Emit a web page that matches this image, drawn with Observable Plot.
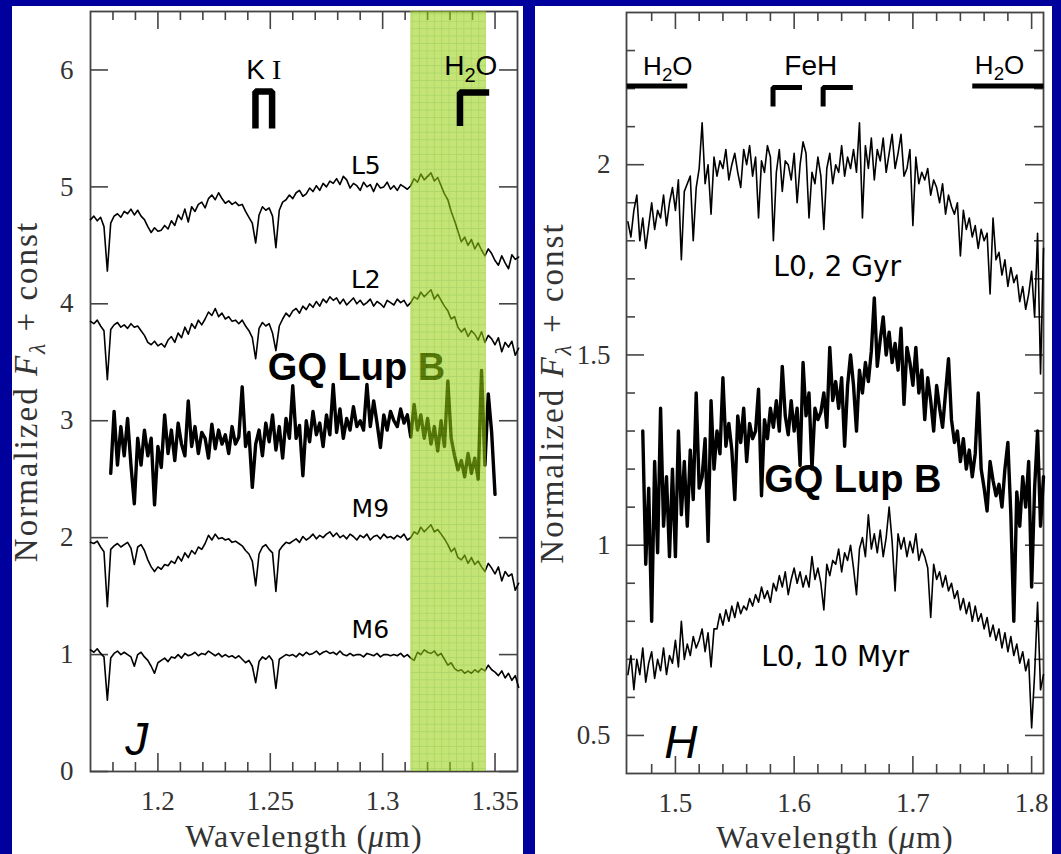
<!DOCTYPE html>
<html><head><meta charset="utf-8">
<script src="https://cdn.jsdelivr.net/npm/d3@7"></script>
<script src="https://cdn.jsdelivr.net/npm/@observablehq/plot@0.6"></script>
<style>
html,body{margin:0;padding:0;background:#00009c;}
#wrap{position:relative;width:1061px;height:854px;background:#00009c;overflow:hidden;}
.panel{position:absolute;background:#fff;}
#left{left:12px;top:6px;width:511px;height:848px;}
#right{left:535px;top:6px;width:517px;height:848px;}
.panel svg{overflow:visible;display:block;}
</style></head>
<body>
<div id="wrap"><div id="left" class="panel"></div><div id="right" class="panel"></div></div>
<svg width="0" height="0" style="position:absolute"><defs>
<pattern id="greenGrid" width="7.4" height="7.4" patternUnits="userSpaceOnUse">
<rect width="7.4" height="7.4" fill="#9ad212"/>
<path d="M0 0.5H7.4M0.5 0V7.4" stroke="#74ba00" stroke-width="1"/>
</pattern></defs></svg>
<script>
// ---------- J band (left panel) ----------
const jStart = 1.17, jStep = 0.0015;          // wavelength sampling of the J spectra
const gqJStart = 1.179;                        // GQ Lup B J spectrum starts here
const fluxL5 = [
 4.72,4.75,4.71,4.74,4.66,4.28,4.69,4.75,4.77,4.74,
 4.79,4.77,4.81,4.76,4.80,4.75,4.72,4.66,4.61,4.65,
 4.62,4.63,4.67,4.64,4.71,4.67,4.76,4.72,4.81,4.70,
 4.83,4.79,4.85,4.87,4.82,4.90,4.93,4.89,4.95,4.90,
 4.86,4.88,4.85,4.87,4.84,4.85,4.79,4.74,4.69,4.52,
 4.76,4.83,4.80,4.82,4.75,4.48,4.80,4.87,4.89,4.93,
 4.90,4.95,4.97,4.92,4.94,4.99,4.96,5.01,4.97,5.03,
 5.00,5.05,5.03,5.07,5.02,5.09,5.06,4.99,5.03,5.01,
 4.97,5.04,5.00,5.02,4.96,5.03,4.99,5.00,5.04,4.98,
 5.01,4.97,5.02,5.00,4.98,5.01,5.07,5.04,5.11,5.06,
 5.09,5.12,5.05,5.08,5.01,4.94,4.89,4.79,4.71,4.62,
 4.53,4.57,4.50,4.55,4.47,4.52,4.46,4.41,4.47,4.43,
 4.37,4.33,4.41,4.35,4.30,4.42,4.38,4.40];
const fluxL2 = [
 3.85,3.83,3.86,3.81,3.77,3.35,3.78,3.82,3.84,3.80,
 3.82,3.79,3.83,3.80,3.81,3.77,3.73,3.67,3.65,3.68,
 3.64,3.66,3.63,3.69,3.72,3.67,3.75,3.71,3.80,3.74,
 3.83,3.79,3.86,3.82,3.87,3.93,3.90,3.96,3.89,3.92,
 3.87,3.89,3.85,3.86,3.83,3.86,3.81,3.77,3.71,3.53,
 3.79,3.84,3.81,3.83,3.75,3.60,3.81,3.87,3.92,3.89,
 3.94,3.96,3.92,3.98,3.95,4.00,3.97,4.02,3.98,4.04,
 4.01,4.06,4.03,4.05,4.00,4.04,3.99,4.02,4.05,4.00,
 4.03,3.99,4.01,4.04,3.98,4.02,4.00,3.97,4.03,4.01,
 3.99,4.04,4.01,4.03,3.98,4.01,4.06,4.04,4.10,4.06,
 4.09,4.12,4.04,4.08,4.03,3.98,3.94,3.87,3.89,3.80,
 3.76,3.79,3.72,3.77,3.74,3.69,3.76,3.67,3.73,3.70,
 3.65,3.71,3.59,3.67,3.63,3.68,3.56,3.62];
const fluxGQJ = [
 2.55,3.08,2.62,2.95,
 2.70,3.02,2.62,2.29,2.85,2.62,2.92,2.70,2.85,2.28,
 2.78,2.60,3.05,2.72,2.92,2.66,2.98,2.80,2.70,3.17,
 2.78,2.95,2.72,2.90,2.85,2.68,2.97,2.76,2.92,2.80,
 2.88,2.72,2.95,2.80,2.86,3.29,2.78,2.90,2.43,2.80,
 2.92,2.70,2.98,2.82,3.05,2.75,2.95,2.68,3.02,2.85,
 3.30,2.85,2.96,2.53,3.00,2.82,3.08,2.88,2.98,2.78,
 3.05,2.88,3.31,2.90,3.10,2.85,3.02,2.92,3.12,2.95,
 3.00,2.92,3.31,2.95,3.17,2.98,2.77,3.05,2.92,3.08,
 3.00,2.95,3.10,2.98,3.05,2.86,3.14,2.92,3.05,2.85,
 3.02,2.80,2.95,2.74,3.00,2.78,3.34,2.85,2.70,2.58,
 2.66,2.52,2.72,2.55,2.68,2.50,3.43,2.62,3.23,2.90,
 2.37];
const fluxM9 = [
 1.96,1.95,1.97,1.92,1.88,1.41,1.90,1.93,1.95,1.92,
 1.94,1.96,1.91,1.77,1.92,1.94,1.89,1.81,1.75,1.71,
 1.75,1.73,1.77,1.76,1.80,1.78,1.84,1.80,1.87,1.83,
 1.89,1.86,1.92,1.90,1.95,2.02,1.98,2.03,1.99,2.00,
 1.98,1.99,1.96,1.97,1.95,1.93,1.89,1.86,1.80,1.59,
 1.86,1.92,1.94,1.90,1.87,1.54,1.89,1.93,1.96,1.95,
 1.97,1.99,1.96,2.01,1.98,2.00,2.03,1.99,2.02,2.00,
 2.03,2.05,2.01,2.04,2.00,2.02,1.99,2.03,2.01,1.98,
 2.02,2.00,2.03,1.98,2.01,2.02,1.99,2.03,2.00,2.01,
 1.99,2.02,2.00,2.03,1.98,2.00,2.05,2.03,2.09,2.05,
 2.08,2.11,2.05,2.07,2.03,1.99,1.94,1.88,1.91,1.83,
 1.81,1.85,1.78,1.83,1.77,1.80,1.75,1.71,1.78,1.74,
 1.69,1.75,1.63,1.71,1.67,1.69,1.55,1.61];
const fluxM6 = [
 1.04,1.02,1.05,1.01,0.98,0.61,0.97,1.01,1.03,1.00,
 1.02,1.00,0.98,0.90,1.00,1.02,0.98,0.95,0.90,0.84,
 0.93,0.95,0.97,0.94,0.98,0.97,1.00,0.97,1.01,0.99,
 1.00,1.02,0.99,1.01,1.00,1.03,1.01,0.99,1.01,0.98,
 1.00,0.98,0.99,0.97,0.99,0.96,0.93,0.95,0.90,0.76,
 0.94,0.98,0.96,0.99,0.95,0.71,0.96,0.98,1.00,0.99,
 1.00,0.98,1.01,0.99,1.02,1.00,1.01,1.03,1.00,1.02,
 1.03,1.01,1.02,1.00,1.03,1.00,0.99,1.01,0.99,1.00,
 1.00,0.98,1.01,1.00,0.99,1.01,0.98,1.00,1.00,0.99,
 1.00,0.99,1.01,0.98,1.00,0.97,0.95,1.02,1.00,1.04,
 1.02,1.01,1.03,0.99,1.01,0.96,0.91,0.93,0.88,0.86,
 0.87,0.84,0.86,0.84,0.87,0.85,0.88,0.86,0.91,0.87,
 0.85,0.82,0.86,0.80,0.84,0.78,0.82,0.72];
const jMajorX = [1.2, 1.25, 1.3, 1.35];
const jMinorX = [1.18,1.19,1.21,1.22,1.23,1.24,1.26,1.27,1.28,1.29,1.31,1.32,1.33,1.34];
const jTicksY = [0,1,2,3,4,5,6];
const jBand = [{x1: 1.3125, x2: 1.3462}];
const kIBracket = [{x:1.2434,y:5.50},{x:1.2434,y:5.815},{x:1.2508,y:5.815},{x:1.2508,y:5.50}];
const h2oJBracket = [{x:1.3344,y:5.52},{x:1.3344,y:5.807},{x:1.3474,y:5.807}];

// ---------- H band (right panel) ----------
const hStart = 1.46, hStep = 0.0025;
const gqHStart = 1.4725;
const fluxGyr = [
 1.85,1.81,1.88,1.92,1.80,1.86,1.78,1.84,1.90,1.83,
 1.88,1.86,1.92,1.84,1.90,1.94,1.88,1.96,1.75,1.93,
 1.95,1.97,1.80,1.94,1.99,2.11,1.95,2.00,1.87,2.02,
 1.97,2.01,1.99,2.04,1.96,2.00,2.03,1.98,1.94,2.04,
 2.00,2.05,1.97,2.02,1.86,2.01,1.98,2.05,2.02,1.80,
 1.98,2.04,1.93,2.01,2.00,1.96,2.03,1.90,2.00,2.06,
 2.03,1.86,1.98,1.95,2.02,1.97,1.83,1.99,2.03,1.95,
 2.00,1.98,2.05,1.97,2.02,1.99,2.04,1.98,2.11,1.86,
 2.05,1.99,2.07,1.96,2.04,2.01,2.07,1.98,2.03,2.08,
 1.99,2.03,2.08,1.97,1.99,2.04,1.84,2.02,1.95,1.98,
 1.96,1.99,1.92,1.96,1.94,1.90,1.95,1.87,1.92,1.89,
 1.87,1.90,1.76,1.88,1.83,1.86,1.81,1.84,1.78,1.83,
 1.80,1.82,1.66,1.86,1.75,1.77,1.71,1.75,1.68,1.73,
 1.69,1.71,1.64,1.68,1.62,1.66,1.72,1.60,1.82,1.45,
 1.78];
const fluxGQH = [
 1.30,0.95,1.15,0.80,1.22,0.98,1.36,1.05,1.18,0.97,
 1.20,0.97,1.30,1.08,1.22,1.05,1.25,1.12,1.40,1.15,
 1.18,1.28,1.01,1.38,1.20,1.30,1.24,1.44,1.26,1.32,
 1.25,1.12,1.34,1.27,1.36,1.22,1.32,1.28,1.30,1.41,
 1.13,1.33,1.28,1.36,1.31,1.38,1.30,1.47,1.34,1.29,
 1.38,1.30,1.36,1.21,1.48,1.34,1.40,1.20,1.36,1.33,
 1.35,1.40,1.31,1.52,1.38,1.43,1.36,1.44,1.26,1.42,
 1.50,1.42,1.30,1.46,1.40,1.48,1.43,1.51,1.65,1.47,
 1.54,1.60,1.50,1.56,1.48,1.53,1.46,1.57,1.37,1.52,
 1.48,1.42,1.52,1.40,1.46,1.33,1.44,1.38,1.30,1.42,
 1.36,1.31,1.40,1.49,1.33,1.27,1.30,1.22,1.28,1.20,
 1.25,1.18,1.24,1.40,1.20,1.15,1.09,1.22,1.17,1.13,
 1.16,1.10,1.20,1.27,1.08,0.80,1.14,1.05,1.18,1.10,
 1.22,0.89,1.15,1.30,1.05,1.18];
const fluxMyr = [
 0.66,0.71,0.62,0.70,0.66,0.73,0.64,0.69,0.72,0.65,
 0.70,0.67,0.73,0.66,0.71,0.69,0.75,0.68,0.80,0.70,
 0.74,0.71,0.76,0.73,0.75,0.78,0.72,0.77,0.68,0.78,
 0.78,0.82,0.79,0.83,0.80,0.84,0.81,0.85,0.82,0.84,
 0.83,0.86,0.84,0.87,0.85,0.89,0.86,0.88,0.85,0.90,
 0.88,0.92,0.89,0.93,0.87,0.91,0.94,0.90,0.93,0.89,
 0.92,0.89,0.97,0.91,0.94,0.90,0.83,0.95,0.92,0.96,
 0.95,0.99,0.93,0.98,0.96,1.00,0.94,0.87,0.99,1.02,
 0.97,1.08,0.99,1.03,0.98,1.04,0.97,1.02,1.10,1.01,
 0.88,1.03,0.99,1.02,0.97,1.01,0.98,1.03,0.96,0.99,
 0.97,0.94,0.81,0.95,0.91,0.93,0.89,0.92,0.88,0.90,
 0.86,0.88,0.83,0.86,0.82,0.85,0.80,0.84,0.80,0.82,
 0.78,0.81,0.76,0.79,0.75,0.78,0.73,0.77,0.72,0.76,
 0.71,0.74,0.69,0.72,0.67,0.70,0.52,0.66,0.85,0.62,
 0.66];
const hMajorX = [1.5, 1.6, 1.7, 1.8];
const hMinorX = [1.48,1.52,1.54,1.56,1.58,1.62,1.64,1.66,1.68,1.72,1.74,1.76,1.78];
const hMajorY = [0.5, 1, 1.5, 2];
const hMinorY = [0.6,0.7,0.8,0.9,1.1,1.2,1.3,1.4,1.6,1.7,1.8,1.9,2.1,2.2,2.3];
const h2oBarBlue = [{x:1.459,y:2.207},{x:1.51,y:2.207}];
const h2oBarRed = [{x:1.75,y:2.207},{x:1.81,y:2.207}];
const fehBracket1 = [{x:1.5822,y:2.153},{x:1.5822,y:2.2026},{x:1.6066,y:2.2026}];
const fehBracket2 = [{x:1.6244,y:2.153},{x:1.6244,y:2.2026},{x:1.6494,y:2.2026}];

const xTitle = "Wavelength (μm)";
const yTitle = "Normalized F_λ + const";

// ---------- helpers ----------
function spectrum(start, step, values) {
  return values.map((v, i) => ({w: start + i * step, f: v}));
}
const NS = "http://www.w3.org/2000/svg";
function rich(el, parts, fs) {
  el.textContent = "";
  let shift = 0;
  for (const p of parts) {
    const ts = document.createElementNS(NS, "tspan");
    ts.textContent = p.t;
    if (p.sub) ts.setAttribute("font-size", fs * 0.72);
    const target = p.sub ? fs * 0.24 : 0;
    if (target !== shift) { ts.setAttribute("dy", target - shift); shift = target; }
    if (p.italic) ts.setAttribute("font-style", "italic");
    if (p.family) ts.setAttribute("font-family", p.family);
    el.appendChild(ts);
  }
}
function decorate(svg) {
  svg.querySelectorAll("text").forEach(t => {
    const s = t.textContent;
    const fs = parseFloat(t.getAttribute("font-size") || t.parentNode.getAttribute("font-size") || 20);
    if (s === "H2O") rich(t, [{t:"H"},{t:"2",sub:true},{t:"O"}], fs);
    else if (s === "K I") rich(t, [{t:"K", family:"Liberation Sans"},{t:" I", family:"Liberation Serif"}], fs);
    else if (s === yTitle) { rich(t, [{t:"Normalized "},{t:"F",italic:true},{t:"λ",sub:true,italic:true},{t:" + const"}], fs); t.style.letterSpacing = "2px"; }
    else if (s === xTitle) { rich(t, [{t:"Wavelength ("},{t:"μ",italic:true},{t:"m)"}], fs); t.style.letterSpacing = "1px"; }
  });
}

const tickColor = "#444";
const serif = "Liberation Serif";

// ---------- left panel ----------
{
  const W = 511, H = 848, mL = 78, mR = 6, mT = 5, mB = 83;
  const FW = W - mL - mR, FH = H - mT - mB;
  const L = (s, v) => spectrum(s, jStep, v);
  const svg = Plot.plot({
    width: W, height: H, marginLeft: mL, marginRight: mR, marginTop: mT, marginBottom: mB,
    x: {domain: [1.17, 1.36]}, y: {domain: [0, 6.5]},
    style: {background: "white", overflow: "visible"},
    marks: [
      Plot.tickX(jMinorX, {x: d => d, insetTop: FH - 9, stroke: tickColor, strokeWidth: 1.6}),
      Plot.tickX(jMinorX, {x: d => d, insetBottom: FH - 9, stroke: tickColor, strokeWidth: 1.6}),
      Plot.tickX(jMajorX, {x: d => d, insetTop: FH - 18, stroke: tickColor, strokeWidth: 1.6}),
      Plot.tickX(jMajorX, {x: d => d, insetBottom: FH - 18, stroke: tickColor, strokeWidth: 1.6}),
      Plot.tickY(jTicksY, {y: d => d, insetRight: FW - 18, stroke: tickColor, strokeWidth: 1.6}),
      Plot.tickY(jTicksY, {y: d => d, insetLeft: FW - 18, stroke: tickColor, strokeWidth: 1.6}),
      Plot.frame({stroke: tickColor, strokeWidth: 1.8}),
      Plot.axisX({ticks: jMajorX, tickSize: 0, tickPadding: 19, tickFormat: d => String(d), fontSize: 27, fontFamily: serif, color: "#333", label: null}),
      Plot.axisY({ticks: jTicksY, tickSize: 0, tickPadding: 17, tickFormat: d => String(d), fontSize: 27, fontFamily: serif, color: "#333", label: null}),
      Plot.line(L(jStart, fluxL5), {x: "w", y: "f", stroke: "black", strokeWidth: 1.6}),
      Plot.line(L(jStart, fluxL2), {x: "w", y: "f", stroke: "black", strokeWidth: 1.6}),
      Plot.line(L(gqJStart, fluxGQJ), {x: "w", y: "f", stroke: "black", strokeWidth: 3.4}),
      Plot.line(L(jStart, fluxM9), {x: "w", y: "f", stroke: "black", strokeWidth: 1.6}),
      Plot.line(L(jStart, fluxM6), {x: "w", y: "f", stroke: "black", strokeWidth: 1.6}),
      Plot.text([{x:1.2925,y:5.18,t:"L5"},{x:1.2925,y:4.205,t:"L2"},{x:1.2945,y:2.243,t:"M9"},{x:1.2945,y:1.214,t:"M6"}],
        {x: "x", y: "y", text: "t", fontFamily: "DejaVu Sans", fontSize: 25, fill: "black"}),
      Plot.text(["GQ Lup B"], {x: 1.2489, y: 3.455, text: d => d, textAnchor: "start", fontFamily: "Liberation Sans", fontWeight: "bold", fontSize: 38, fill: "black"}),
      Plot.text(["J"], {x: 1.1906, y: 0.27, text: d => d, fontFamily: "Liberation Sans", fontStyle: "italic", fontSize: 46, fill: "black"}),
      Plot.rect(jBand, {x1: "x1", x2: "x2", y1: 0, y2: 6.5, fill: "url(#greenGrid)", fillOpacity: 0.58}),
      Plot.line(kIBracket, {x: "x", y: "y", stroke: "black", strokeWidth: 6.5, strokeLinejoin: "miter", strokeLinecap: "butt"}),
      Plot.line(h2oJBracket, {x: "x", y: "y", stroke: "black", strokeWidth: 6.5, strokeLinejoin: "miter", strokeLinecap: "butt"}),
      Plot.text(["K I"], {x: 1.2471, y: 5.996, text: d => d, fontFamily: "Liberation Sans", fontSize: 28, fill: "black"}),
      Plot.text(["H2O"], {x: 1.3392, y: 6.03, text: d => d, fontFamily: "Liberation Sans", fontSize: 28, fill: "black"}),
      Plot.text([xTitle], {frameAnchor: "bottom", lineAnchor: "middle", textAnchor: "middle", dy: 65, text: d => d, fontFamily: serif, fontSize: 32, fill: "#333"}),
      Plot.text([yTitle], {frameAnchor: "left", lineAnchor: "middle", textAnchor: "middle", dx: -64.4, rotate: -90, text: d => d, fontFamily: serif, fontSize: 33, fill: "#333"})
    ]
  });
  decorate(svg);
  document.getElementById("left").appendChild(svg);
}

// ---------- right panel ----------
{
  const W = 517, H = 848, mL = 91, mR = 9, mT = 6, mB = 81;
  const FW = W - mL - mR, FH = H - mT - mB;
  const S = (s, v) => spectrum(s, hStep, v);
  const svg = Plot.plot({
    width: W, height: H, marginLeft: mL, marginRight: mR, marginTop: mT, marginBottom: mB,
    x: {domain: [1.4588, 1.81]}, y: {domain: [0.4, 2.4]},
    style: {background: "white", overflow: "visible"},
    marks: [
      Plot.tickX(hMinorX, {x: d => d, insetTop: FH - 9, stroke: tickColor, strokeWidth: 1.6}),
      Plot.tickX(hMinorX, {x: d => d, insetBottom: FH - 9, stroke: tickColor, strokeWidth: 1.6}),
      Plot.tickX(hMajorX, {x: d => d, insetTop: FH - 17, stroke: tickColor, strokeWidth: 1.6}),
      Plot.tickX(hMajorX, {x: d => d, insetBottom: FH - 17, stroke: tickColor, strokeWidth: 1.6}),
      Plot.tickY(hMinorY, {y: d => d, insetRight: FW - 9, stroke: tickColor, strokeWidth: 1.6}),
      Plot.tickY(hMinorY, {y: d => d, insetLeft: FW - 9, stroke: tickColor, strokeWidth: 1.6}),
      Plot.tickY(hMajorY, {y: d => d, insetRight: FW - 18, stroke: tickColor, strokeWidth: 1.6}),
      Plot.tickY(hMajorY, {y: d => d, insetLeft: FW - 18, stroke: tickColor, strokeWidth: 1.6}),
      Plot.frame({stroke: tickColor, strokeWidth: 1.8}),
      Plot.axisX({ticks: hMajorX, tickSize: 0, tickPadding: 19, tickFormat: d => String(d), fontSize: 27, fontFamily: serif, color: "#333", label: null}),
      Plot.axisY({ticks: hMajorY, tickSize: 0, tickPadding: 16, tickFormat: d => String(d), fontSize: 27, fontFamily: serif, color: "#333", label: null}),
      Plot.line(S(hStart, fluxGyr), {x: "w", y: "f", stroke: "black", strokeWidth: 1.6}),
      Plot.line(S(gqHStart, fluxGQH), {x: "w", y: "f", stroke: "black", strokeWidth: 3.4}),
      Plot.line(S(hStart, fluxMyr), {x: "w", y: "f", stroke: "black", strokeWidth: 1.6}),
      Plot.line(h2oBarBlue, {x: "x", y: "y", stroke: "black", strokeWidth: 5, strokeLinecap: "butt"}),
      Plot.line(h2oBarRed, {x: "x", y: "y", stroke: "black", strokeWidth: 5, strokeLinecap: "butt"}),
      Plot.line(fehBracket1, {x: "x", y: "y", stroke: "black", strokeWidth: 5, strokeLinejoin: "miter", strokeLinecap: "butt"}),
      Plot.line(fehBracket2, {x: "x", y: "y", stroke: "black", strokeWidth: 5, strokeLinejoin: "miter", strokeLinecap: "butt"}),
      Plot.text(["H2O"], {x: 1.4936, y: 2.258, text: d => d, fontFamily: "Liberation Sans", fontSize: 26, fill: "black"}),
      Plot.text(["FeH"], {x: 1.614, y: 2.258, text: d => d, fontFamily: "Liberation Sans", fontSize: 28, fill: "black"}),
      Plot.text(["H2O"], {x: 1.773, y: 2.26, text: d => d, fontFamily: "Liberation Sans", fontSize: 26, fill: "black"}),
      Plot.text(["L0, 2 Gyr"], {x: 1.6362, y: 1.7316, text: d => d, fontFamily: "DejaVu Sans", fontSize: 28, fill: "black"}),
      Plot.text(["GQ Lup B"], {x: 1.6494, y: 1.171, text: d => d, fontFamily: "Liberation Sans", fontWeight: "bold", fontSize: 38, fill: "black"}),
      Plot.text(["L0, 10 Myr"], {x: 1.6345, y: 0.7053, text: d => d, fontFamily: "DejaVu Sans", fontSize: 28, fill: "black"}),
      Plot.text(["H"], {x: 1.5045, y: 0.479, text: d => d, fontFamily: "Liberation Sans", fontStyle: "italic", fontSize: 46, fill: "black"}),
      Plot.text([xTitle], {frameAnchor: "bottom", lineAnchor: "middle", textAnchor: "middle", dy: 64, text: d => d, fontFamily: serif, fontSize: 32, fill: "#333"}),
      Plot.text([yTitle], {frameAnchor: "left", lineAnchor: "middle", textAnchor: "middle", dx: -74.4, rotate: -90, text: d => d, fontFamily: serif, fontSize: 33, fill: "#333"})
    ]
  });
  decorate(svg);
  document.getElementById("right").appendChild(svg);
}
</script>
</body></html>
